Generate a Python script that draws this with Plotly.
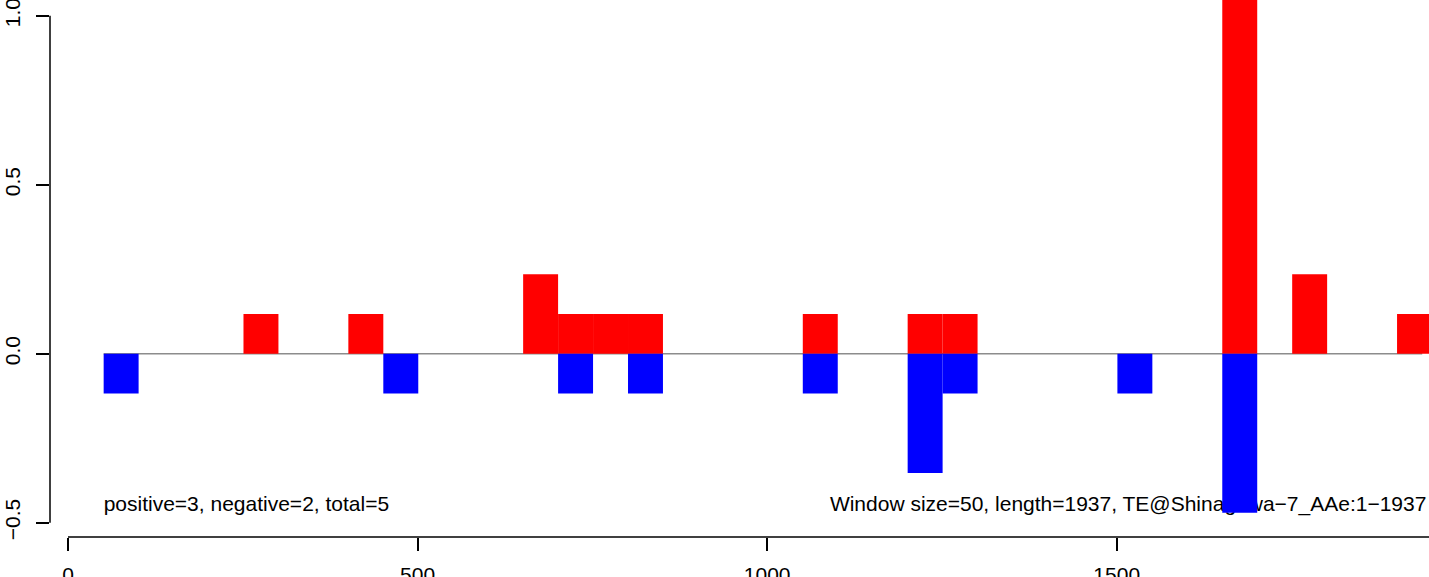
import plotly.graph_objects as go

# ---- data ----
window_size = 50
seq_length = 1937

pos_start = [251, 401, 651, 701, 751, 801, 1051, 1201, 1251, 1651, 1751, 1901]
pos_value = [0.1176, 0.1176, 0.2353, 0.1176, 0.1176, 0.1176, 0.1176, 0.1176, 0.1176, 1.1765, 0.2353, 0.1176]

neg_start = [51, 451, 701, 801, 1051, 1201, 1251, 1501, 1651]
neg_value = [-0.1176, -0.1176, -0.1176, -0.1176, -0.1176, -0.3529, -0.1176, -0.1176, -0.4706]

zero_line_x = [51, 1937]
zero_line_y = [0, 0]

x_ticks = [0, 500, 1000, 1500]
x_ticklabels = ["0", "500", "1000", "1500"]
y_ticks = [-0.5, 0.0, 0.5, 1.0]
y_ticklabels = ["\u22120.5", "0.0", "0.5", "1.0"]

left_label = "positive=3, negative=2, total=5"
right_label = "Window size=50, length=1937, TE@Shinagawa\u22127_AAe:1\u22121937"

# ---- layout constants ----
W, H = 1429, 577
XR = [-25.75, 1946.7]
YR = [-0.5423, 1.0464]
FONT = "Liberation Sans, Arial, Helvetica, sans-serif"
FS = 21
label_y = -0.45
right_label_x = 1943

fig = go.Figure()

# base subplot: zero line and texts (drawn beneath the bars)
fig.add_trace(go.Scatter(x=zero_line_x, y=zero_line_y, mode="lines",
                         line=dict(color="#8c8c8c", width=1.5),
                         hoverinfo="skip", showlegend=False))
fig.add_trace(go.Scatter(x=[neg_start[0]], y=[label_y],
                         mode="text", text=[left_label], textposition="middle right",
                         textfont=dict(family=FONT, size=FS, color="black"),
                         hoverinfo="skip", showlegend=False))
fig.add_trace(go.Scatter(x=[right_label_x], y=[label_y],
                         mode="text", text=[right_label], textposition="middle left",
                         textfont=dict(family=FONT, size=FS, color="black"),
                         hoverinfo="skip", showlegend=False))

# overlaid subplot: bars
fig.add_trace(go.Bar(x=[s + window_size / 2 for s in pos_start], y=pos_value,
                     width=window_size, marker=dict(color="#FF0000", line=dict(width=0)),
                     xaxis="x2", yaxis="y2", hoverinfo="skip", showlegend=False))
fig.add_trace(go.Bar(x=[s + window_size / 2 for s in neg_start], y=neg_value,
                     width=window_size, marker=dict(color="#0000FF", line=dict(width=0)),
                     xaxis="x2", yaxis="y2", hoverinfo="skip", showlegend=False))

fig.update_layout(
    width=W, height=H,
    autosize=False,
    margin=dict(l=50, r=0, t=0, b=40, pad=0, autoexpand=False),
    paper_bgcolor="white", plot_bgcolor="white",
    barmode="overlay",
    showlegend=False,
    font=dict(family=FONT, size=FS, color="black"),
    xaxis=dict(range=XR, showgrid=False, zeroline=False, showline=False, automargin=False,
               tickmode="array", tickvals=x_ticks, ticktext=x_ticklabels,
               ticks="outside", ticklen=13, tickwidth=1.5, tickcolor="black",
               tickfont=dict(family=FONT, size=FS, color="black"),
               ticklabelstandoff=6, ticklabeloverflow="allow"),
    yaxis=dict(range=YR, showgrid=False, zeroline=False, showline=False, automargin=False,
               tickmode="array", tickvals=y_ticks, ticktext=y_ticklabels,
               ticks="outside", ticklen=13, tickwidth=1.5, tickcolor="black",
               tickangle=-90,
               tickfont=dict(family=FONT, size=FS, color="black"),
               ticklabelstandoff=8, ticklabeloverflow="allow"),
    xaxis2=dict(range=XR, overlaying="x", visible=False, automargin=False),
    yaxis2=dict(range=YR, overlaying="y", visible=False, automargin=False),
    shapes=[
        dict(type="line", xref="paper", yref="y", x0=0, x1=0, y0=y_ticks[0], y1=y_ticks[-1],
             line=dict(color="black", width=1.5)),
        dict(type="line", xref="x", yref="paper", x0=x_ticks[0], x1=2000, y0=0, y1=0,
             line=dict(color="black", width=1.5)),
    ],
)

fig.write_html(
    "out.html",
    config={"displayModeBar": False},
    post_script="document.body.style.margin='0';document.body.style.overflow='hidden';",
)
